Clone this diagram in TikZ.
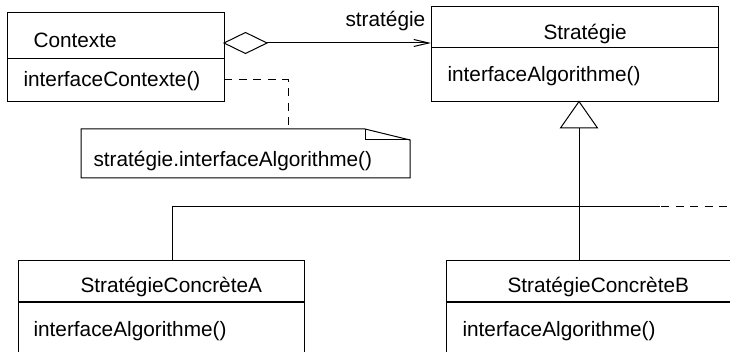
\documentclass[tikz,border=0pt]{standalone}
\usepackage{fontspec}
\setmainfont{Liberation Sans}
\usetikzlibrary{arrows.meta,calc}
\begin{document}
\begin{tikzpicture}[x=1pt,y=-1pt,
  font=\fontsize{20.8}{25}\selectfont,
  line width=1pt,
  umlbox/.style={draw, line width=1pt, inner sep=0pt, anchor=north west},
  lbl/.style={anchor=base west, inner sep=0pt},
  dsh/.style={dash pattern=on 8pt off 6.5pt, line width=1pt},
  diam/.style={draw, line width=1pt, inner sep=0pt, minimum width=43pt, minimum height=21pt}]
\useasboundingbox (0,0) rectangle (730,352);

% Contexte
\node[umlbox, minimum width=217pt, minimum height=89pt] (ctx) at (7,12) {};
\draw ($(ctx.north west)+(0,47)$) coordinate (ctxdl) -- ($(ctx.north east)+(0,47)$) coordinate (ctxdr);
\node[lbl] (ctxname) at (33,48) {Contexte};
\node[lbl] (ctxop) at (23,87) {interfaceContexte()};

% Strategie
\node[umlbox, minimum width=287pt, minimum height=95pt] (strat) at (431,6) {};
\draw ($(strat.north west)+(0,42)$) -- ($(strat.north east)+(0,42)$);
\node[lbl] (stratname) at (543,40) {Stratégie};
\node[lbl] (stratop) at (447,82) {interfaceAlgorithme()};

% aggregation
\coordinate (dL) at (224,43);
\coordinate (dR) at (267,43);
\draw (dL) -- (245.5,32.5) -- (dR) -- (245.5,53.5) -- cycle;
\coordinate (arrEnd) at (strat.west |- dR);
\draw[-{Straight Barb[length=15pt,width=7pt,line width=1pt]}] (dR) -- (arrEnd);
\node[lbl] (rolename) at (345,27) {stratégie};

% note
\coordinate (nTL) at (81,129);
\coordinate (nF1) at (365,129);
\coordinate (nF2) at (410,140);
\coordinate (nBR) at (410,178);
\coordinate (nBL) at (81,178);
\draw (nTL) -- (nF1) -- (nF2) -- (nBR) -- (nBL) -- cycle;
\draw (nF1) -- (365,140) -- (nF2);
\node[lbl] (notetext) at (93,167) {stratégie.interfaceAlgorithme()};
\coordinate (nTop) at (288,129);
\coordinate (ctxR) at (224,80);
\draw[dsh] (ctxR) -- (288,80) -- (nTop);

% generalisation
\coordinate (tApex) at (579,101.5);
\coordinate (tBL) at (560.5,128);
\coordinate (tBR) at (597.5,128);
\draw (tApex) -- (tBR) -- (tBL) -- cycle;
\coordinate (tBase) at (579,128);

% concrete A
\node[umlbox, minimum width=286pt, minimum height=120pt] (ca) at (18,260) {};
\draw ($(ca.north west)+(0,42)$) -- ($(ca.north east)+(0,42)$);
\node[lbl] (caname) at (80,293) {StratégieConcrèteA};
\node[lbl] (caop) at (33,336) {interfaceAlgorithme()};

% concrete B
\node[umlbox, minimum width=286pt, minimum height=120pt] (cb) at (446,260) {};
\draw ($(cb.north west)+(0,42)$) -- ($(cb.north east)+(0,42)$);
\node[lbl] (cbname) at (507,293) {StratégieConcrèteB};
\node[lbl] (cbop) at (462,336) {interfaceAlgorithme()};

% hierarchy lines
\coordinate (hA) at (172,207);
\coordinate (hB) at (579,207);
\coordinate (hEnd) at (660,207);
\coordinate (dStart) at (458,207);
\coordinate (dEnd) at (730,207);
\draw (tBase) -- (cb.north -| tBase);
\draw (ca.north -| hA) -- (hA) -- (hEnd);
\draw[dsh] (dStart) -- (dEnd);
\end{tikzpicture}
\end{document}
